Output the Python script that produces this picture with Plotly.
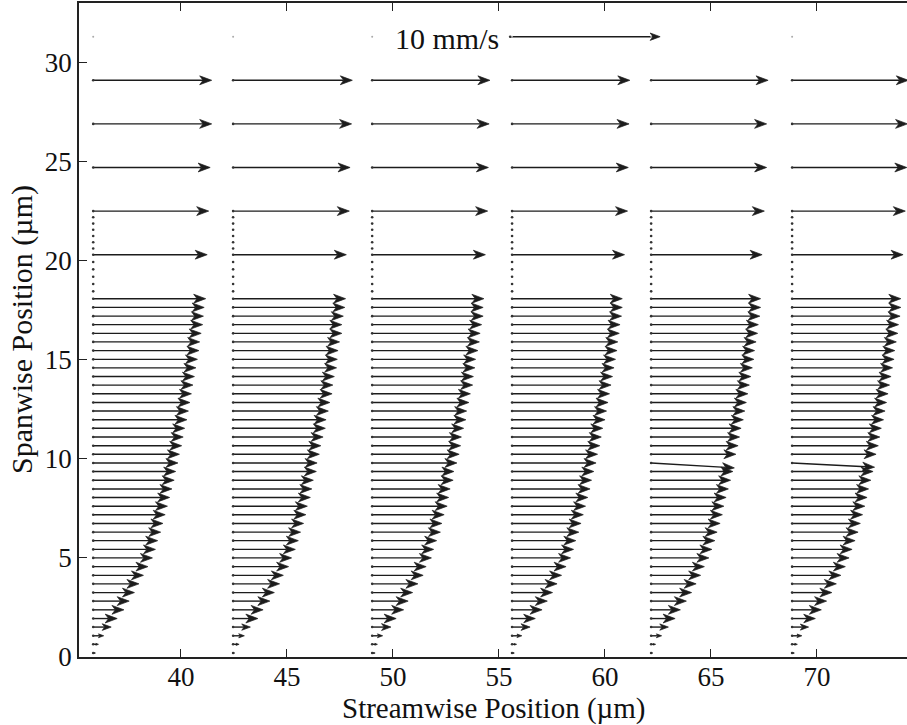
import math
import plotly.graph_objects as go

# ---------------- data ----------------
column_x = [35.86, 42.46, 49.02, 55.62, 62.18, 68.83]          # streamwise position of each profile (µm)

dense_y = [0.20, 0.64, 1.07, 1.51, 1.94, 2.38, 2.82, 3.25, 3.69, 4.12, 4.56, 5.00, 5.43, 5.87,
           6.30, 6.74, 7.18, 7.61, 8.05, 8.48, 8.92, 9.36, 9.79, 10.23, 10.66, 11.10, 11.54, 11.97,
           12.41, 12.84, 13.28, 13.72, 14.15, 14.59, 15.02, 15.46, 15.90, 16.33, 16.77, 17.20, 17.64, 18.08]

u_col1 = [0.15, 0.35, 0.7, 1.2, 1.6, 2.05, 2.4, 2.75, 3.05, 3.35, 3.65, 3.95, 4.15, 4.3, 4.5, 4.65, 4.8,
          4.95, 5.1, 5.25, 5.4, 5.5, 5.65, 5.75, 5.9, 6.0, 6.1, 6.25, 6.35, 6.45, 6.55, 6.65, 6.75, 6.85,
          6.95, 7.05, 7.1, 7.2, 7.3, 7.35, 7.4, 7.5]
u_col2 = [0.1, 0.4, 0.75, 1.15, 1.65, 2.0, 2.45, 2.75, 3.1, 3.35, 3.7, 3.9, 4.15, 4.35, 4.5, 4.7, 4.85,
          4.95, 5.15, 5.25, 5.35, 5.55, 5.6, 5.75, 5.85, 6.0, 6.15, 6.2, 6.35, 6.45, 6.6, 6.65, 6.75, 6.9,
          6.95, 7.0, 7.1, 7.25, 7.25, 7.35, 7.45, 7.5]
u_col3 = [0.2, 0.35, 0.7, 1.25, 1.6, 2.1, 2.4, 2.7, 3.05, 3.4, 3.6, 3.95, 4.1, 4.3, 4.55, 4.65, 4.8,
          5.0, 5.1, 5.2, 5.4, 5.45, 5.65, 5.8, 5.9, 5.95, 6.1, 6.25, 6.3, 6.45, 6.55, 6.7, 6.75, 6.85,
          6.9, 7.05, 7.15, 7.2, 7.3, 7.4, 7.4, 7.45]
u_col4 = [0.15, 0.3, 0.65, 1.2, 1.55, 2.0, 2.35, 2.7, 3.0, 3.3, 3.6, 3.9, 4.1, 4.25, 4.45, 4.6, 4.75,
          4.9, 5.05, 5.2, 5.3, 5.45, 5.6, 5.7, 5.85, 5.95, 6.05, 6.2, 6.3, 6.4, 6.5, 6.6, 6.7, 6.8,
          6.9, 7.0, 7.05, 7.15, 7.2, 7.3, 7.35, 7.35]
u_col5 = [0.1, 0.3, 0.7, 1.15, 1.6, 1.95, 2.35, 2.7, 3.0, 3.3, 3.55, 3.85, 4.05, 4.25, 4.4, 4.6, 4.75,
          4.85, 5.0, 5.15, 5.3, 5.45, 5.55, 5.65, 5.8, 5.9, 6.0, 6.15, 6.25, 6.35, 6.45, 6.55, 6.65, 6.75,
          6.85, 6.9, 7.0, 7.1, 7.15, 7.25, 7.3, 7.3]
u_col6 = [0.15, 0.35, 0.65, 1.1, 1.55, 1.95, 2.3, 2.65, 2.95, 3.25, 3.55, 3.8, 4.0, 4.2, 4.4, 4.55, 4.7,
          4.85, 5.0, 5.1, 5.25, 5.4, 5.5, 5.6, 5.75, 5.85, 5.95, 6.1, 6.2, 6.3, 6.4, 6.5, 6.6, 6.7,
          6.8, 6.85, 6.95, 7.05, 7.1, 7.2, 7.25, 7.25]
dense_u = [u_col1, u_col2, u_col3, u_col4, u_col5, u_col6]

# spanwise velocity component (mm/s): only a few vectors are visibly tilted
dense_v_nonzero = {4: {22: -0.35}, 5: {22: -0.3}}

sparse_y = [20.3, 22.5, 24.7, 26.9, 29.1]
sparse_u = [
    [7.6, 7.7, 7.8, 7.9, 7.9],
    [7.55, 7.75, 7.8, 7.9, 7.95],
    [7.55, 7.7, 7.75, 7.8, 7.85],
    [7.5, 7.7, 7.75, 7.8, 7.85],
    [7.4, 7.55, 7.7, 7.7, 7.8],
    [7.4, 7.55, 7.65, 7.7, 7.75],
]

# zero-velocity measurement points (drawn as dots)
zero_y = [18.45, 18.82, 19.19, 19.56, 19.93, 20.61, 20.93, 21.24, 21.56, 21.87, 22.19]
top_zero_y = [31.3]

x_ticks = [40, 45, 50, 55, 60, 65, 70]
y_ticks = [0, 5, 10, 15, 20, 25, 30]

ref_speed = 10.0          # mm/s
ref_label = "10 mm/s"
ref_x, ref_y = 55.53, 31.3

# ---------------- layout constants ----------------
W, H = 907, 725
M_L, M_R, M_T, M_B = 79, 0, 3, 68
X_RANGE = [35.19, 74.25]
Y_RANGE = [0.0, 33.0]
PX_X = (W - M_L - M_R) / (X_RANGE[1] - X_RANGE[0])
PX_Y = (H - M_T - M_B) / (Y_RANGE[1] - Y_RANGE[0])
SCALE = 0.7075            # µm of plot per mm/s of velocity
INK = "#1c1c1c"
FONT = "Liberation Serif, Times New Roman, serif"

line_x, line_y = [], []
head_x, head_y = [], []
dot_x, dot_y = [], []


def add_arrow(x0, y0, u, v, head_max=12.0):
    px = u * SCALE * PX_X
    py = v * SCALE * PX_Y
    ln = math.hypot(px, py)
    dot_x.append(x0)
    dot_y.append(y0)
    if ln < 0.8:
        return
    ux, uy = px / ln, py / ln
    nx, ny = -uy, ux
    L = min(head_max, 0.5 * ln)
    w = 0.37 * L
    tip = (px, py)
    b1 = (px - L * ux + w * nx, py - L * uy + w * ny)
    nt = (px - 0.72 * L * ux, py - 0.72 * L * uy)
    b2 = (px - L * ux - w * nx, py - L * uy - w * ny)

    def d(p):
        return x0 + p[0] / PX_X, y0 + p[1] / PX_Y

    sx, sy = d(nt)
    line_x.extend([x0, sx, None])
    line_y.extend([y0, sy, None])
    for p in (tip, b1, nt, b2, tip):
        qx, qy = d(p)
        head_x.append(qx)
        head_y.append(qy)
    head_x.append(None)
    head_y.append(None)


for c, x0 in enumerate(column_x):
    for i, y0 in enumerate(dense_y):
        v = dense_v_nonzero.get(c, {}).get(i, 0.0)
        add_arrow(x0, y0, dense_u[c][i], v)
    for j, y0 in enumerate(sparse_y):
        add_arrow(x0, y0, sparse_u[c][j], 0.0)
    for y0 in zero_y:
        dot_x.append(x0)
        dot_y.append(y0)

add_arrow(ref_x, ref_y, ref_speed, 0.0, head_max=10.0)

fig = go.Figure()
fig.add_trace(go.Scatter(x=line_x, y=line_y, mode="lines",
                         line=dict(color=INK, width=1.4), hoverinfo="skip", showlegend=False))
fig.add_trace(go.Scatter(x=head_x, y=head_y, mode="lines", fill="toself", fillcolor=INK,
                         line=dict(color=INK, width=0.7), hoverinfo="skip", showlegend=False))
fig.add_trace(go.Scatter(x=dot_x, y=dot_y, mode="markers",
                         marker=dict(color="#333333", size=2.6), hoverinfo="skip", showlegend=False))
fig.add_trace(go.Scatter(x=[cx for cx in column_x for _ in top_zero_y],
                         y=[ty for _ in column_x for ty in top_zero_y], mode="markers",
                         marker=dict(color="#aaaaaa", size=2), hoverinfo="skip", showlegend=False))

fig.add_annotation(x=ref_x - 0.45, y=ref_y, xref="x", yref="y", text=ref_label, showarrow=False,
                   xanchor="right", yanchor="middle", yshift=-2,
                   font=dict(family=FONT, size=30, color="#111111"))

fig.add_annotation(x=0.5, y=(-(708 - (H - M_B)) / (H - M_T - M_B)), xref="paper", yref="paper",
                   text="Streamwise Position (µm)", showarrow=False, xanchor="center", yanchor="middle",
                   font=dict(family=FONT, size=29, color="#111111"))
fig.add_annotation(x=(22 - M_L) / (W - M_L - M_R), y=0.5, xref="paper", yref="paper",
                   text="Spanwise Position (µm)", showarrow=False, textangle=-90,
                   xanchor="center", yanchor="middle",
                   font=dict(family=FONT, size=30, color="#111111"))

axis_common = dict(showgrid=False, zeroline=False, showline=True, linecolor="#222222", linewidth=1.6,
                   ticks="inside", ticklen=8, tickwidth=1.4, tickcolor="#222222",
                   tickfont=dict(family=FONT, size=27, color="#111111"))
fig.update_xaxes(range=X_RANGE, tickvals=x_ticks, ticktext=[str(t) for t in x_ticks],
                 mirror="ticks", ticklabelstandoff=-5, **axis_common)
fig.update_yaxes(range=Y_RANGE, tickvals=y_ticks, ticktext=[str(t) for t in y_ticks],
                 mirror=False, **axis_common)

fig.update_layout(width=W, height=H, margin=dict(l=M_L, r=M_R, t=M_T, b=M_B),
                  plot_bgcolor="white", paper_bgcolor="white")

fig.write_html("out.html", config={"displayModeBar": False},
               post_script="document.body.style.margin='0px';")
